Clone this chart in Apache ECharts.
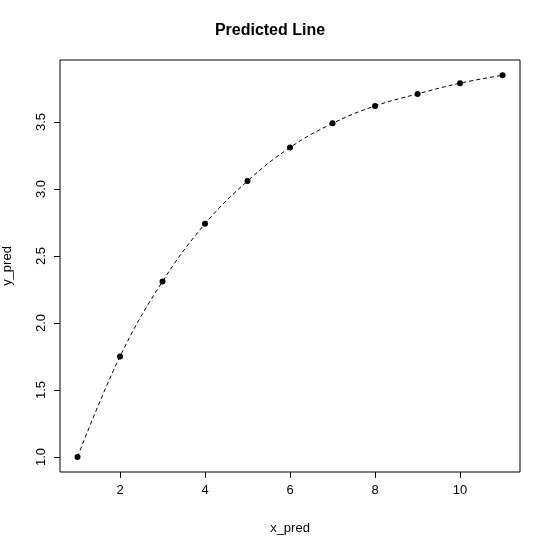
<!DOCTYPE html>
<html><head><meta charset="utf-8">
<script src="https://cdn.jsdelivr.net/npm/echarts@6/dist/echarts.min.js"></script>
<style>html,body{margin:0;background:#fff}#c{width:540px;height:548px}</style>
</head><body><div id="c"></div>
<script>
const xPred = [1,2,3,4,5,6,7,8,9,10,11];
const yPred = [1.00,1.75,2.31,2.74,3.06,3.31,3.49,3.62,3.71,3.79,3.85];
const xTicks = [2,4,6,8,10];
const yTicks = [1.0,1.5,2.0,2.5,3.0,3.5];
const chart = echarts.init(document.getElementById('c'));
const font = 'Liberation Sans, Arial, sans-serif';
chart.setOption({
  animation:false,
  title:{text:'Predicted Line',left:'center',top:18,textStyle:{fontFamily:font,fontSize:16,fontWeight:'bold',color:'#000'}},
  grid:{left:60,right:20,top:60,bottom:76,show:true,borderColor:'#000',borderWidth:1,containLabel:false,outerBoundsMode:'none'},
  xAxis:{type:'value',min:0.588,max:11.41,name:'x_pred',nameLocation:'middle',nameGap:50,
    nameTextStyle:{fontFamily:font,fontSize:13,color:'#000'},
    axisLine:{show:false},splitLine:{show:false},
    axisTick:{show:true,length:6,lineStyle:{color:'#000'},customValues:xTicks},
    axisLabel:{fontFamily:font,fontSize:13,color:'#000',margin:12,customValues:xTicks,formatter:v=>String(v)}},
  yAxis:{type:'value',min:0.888,max:3.963,name:'y_pred',nameLocation:'middle',nameGap:46,
    nameTextStyle:{fontFamily:font,fontSize:13,color:'#000'},
    axisLine:{show:false},splitLine:{show:false},
    axisTick:{show:true,length:6,lineStyle:{color:'#000'},customValues:yTicks},
    axisLabel:{fontFamily:font,fontSize:13,color:'#000',rotate:90,margin:12,customValues:yTicks,formatter:v=>v.toFixed(1)}},
  series:[{type:'line',data:xPred.map((x,i)=>[x,yPred[i]]),smooth:0.4,
    lineStyle:{color:'#000',width:1,type:[4,3]},
    symbol:'circle',symbolSize:6,itemStyle:{color:'#000'}}]
});
</script></body></html>
